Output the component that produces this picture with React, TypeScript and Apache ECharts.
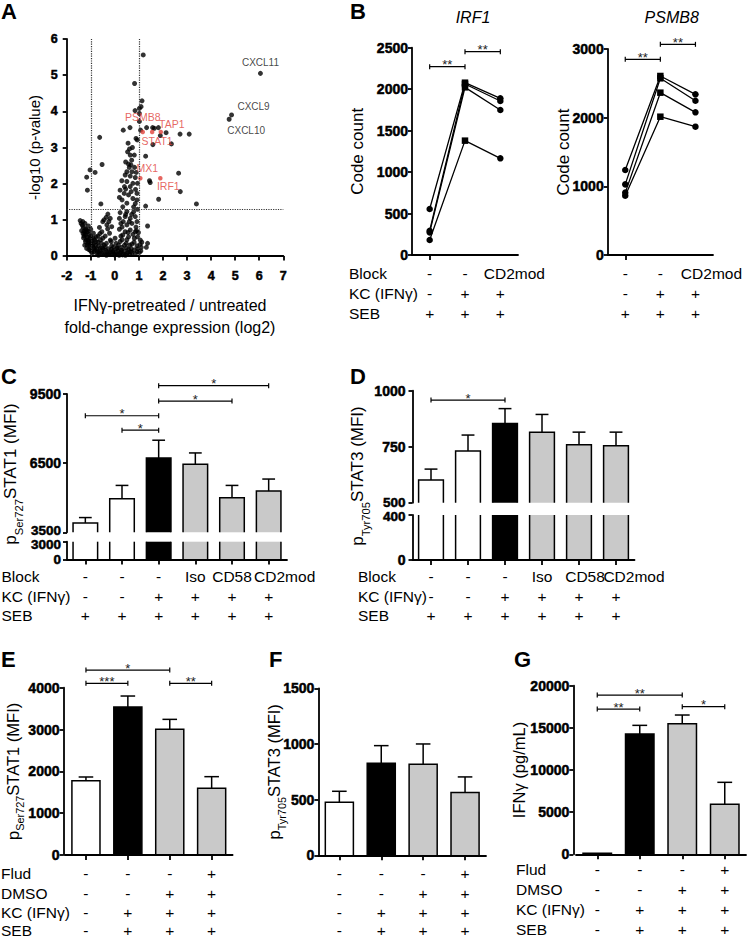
import React, { useEffect, useRef } from 'react';
import * as echarts from 'echarts';

const FONT = '"Liberation Sans", Arial, Helvetica, sans-serif';

// ---------------- Panel A: volcano plot ----------------
const volcanoPoints: [number, number][] = [
  [1.18, 5.56], [0.82, 4.77], [1.13, 4.29], [1.09, 4.13], [1.02, 4.08], [0.84, 4.02], [1.02, 3.94], [1.02, 3.72],
  [0.35, 3.48], [0.63, 3.55], [1.07, 3.48], [1.32, 3.55], [1.57, 3.55], [1.64, 3.53], [1.81, 3.55], [2.13, 3.41],
  [2.71, 3.37], [3.09, 3.37], [-0.63, 3.28], [0.88, 3.25], [0.93, 3.21], [1.89, 3.33], [0.55, 3.12], [0.73, 3.0],
  [1.58, 3.08], [2.35, 3.10], [0.61, 2.96], [0.64, 2.79], [1.28, 2.76], [0.81, 2.79], [-0.53, 2.53], [0.57, 2.54],
  [0.67, 2.52], [0.6, 2.45], [-1.03, 2.38], [-0.82, 2.31], [0.5, 2.33], [0.71, 2.33], [0.89, 2.31], [0.43, 2.24],
  [-1.17, 2.18], [0.64, 2.21], [0.85, 2.17], [2.65, 2.29], [1.44, 2.08], [1.47, 2.03], [0.29, 2.08], [0.5, 2.06],
  [0.75, 2.01], [0.94, 2.01], [0.40, 1.92], [0.22, 1.82], [0.64, 1.92], [0.86, 1.84], [-1.14, 1.82], [2.72, 1.78],
  [0.39, 1.73], [0.92, 1.73], [0.19, 1.62], [0.57, 1.69], [0.75, 1.59], [1.82, 1.57], [0.92, 1.55], [-0.58, 1.44],
  [3.39, 1.44], [0.5, 1.46], [0.33, 1.36], [0.78, 1.36], [1.28, 1.38], [0.45, 2.6], [0.7, 2.65], [0.53, 2.88],
  [0.82, 2.45], [0.68, 1.78], [0.3, 1.55], [0.85, 1.45], [0.45, 1.85],
  [0.22, 1.20], [0.5, 1.23], [0.94, 1.29], [-0.29, 1.16], [-0.36, 1.07], [-0.5, 0.95], [-0.19, 1.04], [-1.44, 0.98],
  [-1.33, 0.95], [-1.24, 0.90], [0.19, 1.04], [0.43, 1.09], [0.64, 1.04], [0.85, 1.09], [1.36, 0.83], [0.25, 0.90],
  [0.5, 0.86], [0.71, 0.90], [0.92, 0.95], [-0.33, 0.86], [-0.13, 0.81], [-0.64, 0.79], [-1.1, 0.83], [-1.31, 0.79],
  [-1.0, 0.74], [-1.38, 0.70], [-1.17, 0.67], [-0.89, 0.63], [-0.54, 0.67], [-0.22, 0.63], [0.19, 0.74], [0.43, 0.67],
  [0.64, 0.72], [0.85, 0.67], [0.33, 0.58], [0.57, 0.53], [0.81, 0.49], [0.94, 0.53], [1.06, 0.44], [1.36, 0.35],
  [1.31, 0.24], [-1.28, 0.55], [-1.03, 0.49], [-0.78, 0.53], [-0.5, 0.49], [-0.19, 0.44], [0.01, 0.49], [0.22, 0.40],
  [0.47, 0.35], [0.71, 0.33], [0.92, 0.28], [1.1, 0.24], [-1.19, 0.44], [-1.1, 0.35], [-0.89, 0.33], [-0.68, 0.28],
  [-0.4, 0.26], [-0.13, 0.28], [0.08, 0.21], [0.29, 0.24], [0.57, 0.18], [0.81, 0.17], [-1.0, 0.24], [-0.82, 0.18],
  [-0.61, 0.15], [-0.33, 0.12], [-0.06, 0.15], [0.22, 0.09], [0.5, 0.07], [0.71, 0.09], [-0.75, 0.07], [-0.5, 0.06],
  [-0.22, 0.07], [0.01, 0.05], [0.36, 0.05], [0.94, 0.12], [-0.96, 0.12], [-1.17, 0.21],
  [-1.25, 0.62], [-1.2, 0.58], [-1.15, 0.52], [-1.12, 0.45], [-1.08, 0.4], [-1.05, 0.3], [-0.98, 0.36], [-0.95, 0.42],
  [-0.92, 0.28], [-0.86, 0.22], [-0.8, 0.3], [-0.76, 0.2], [-0.72, 0.12], [-0.7, 0.38], [-0.65, 0.1], [-0.6, 0.22],
  [-0.55, 0.08], [-0.48, 0.18], [-0.45, 0.3], [-0.42, 0.04], [-0.38, 0.16], [-0.3, 0.06], [-0.26, 0.2], [-0.18, 0.1],
  [-0.12, 0.04], [-0.08, 0.12], [-0.02, 0.03], [0.04, 0.1], [0.1, 0.04], [0.14, 0.15], [0.18, 0.02], [0.26, 0.12],
  [0.32, 0.03], [0.4, 0.14], [0.44, 0.02], [0.55, 0.1], [0.62, 0.04], [0.68, 0.2], [-1.22, 0.75], [-1.35, 0.85],
  [-1.4, 0.9], [-1.28, 0.68], [-1.18, 0.72], [-1.05, 0.6], [-1.0, 0.55], [-0.9, 0.5], [-0.85, 0.45], [-0.6, 0.45],
  [-0.4, 0.55], [-0.3, 0.75], [-0.25, 0.95], [-0.45, 1.0], [0.3, 0.8], [0.35, 0.95], [0.6, 0.95], [0.7, 1.15],
  [0.45, 1.15], [0.55, 0.65], [0.75, 0.6], [0.88, 0.8], [0.95, 0.2], [1.02, 0.1], [1.05, 0.32], [0.98, 0.65],
  [0.4, 0.3], [0.3, 0.45], [0.15, 0.3], [0.05, 0.35], [-0.05, 0.25], [-0.15, 0.4], [-0.35, 0.35], [-0.55, 0.35],
  [-0.7, 0.55], [-0.62, 0.62], [0.25, 0.55], [0.62, 0.3], [0.5, 0.45], [0.8, 0.38], [0.9, 0.7], [0.78, 1.22],
  [-1.3, 0.5], [-1.22, 0.4], [-1.15, 0.3], [-1.08, 0.18], [-0.95, 0.08], [-0.88, 0.12], [-1.02, 0.15], [-1.25, 0.3],
  [-1.32, 0.62], [-1.1, 0.68], [-0.78, 0.4], [-0.68, 0.02], [-0.52, 0.22], [-0.35, 0.02], [-0.15, 0.18], [0.12, 0.22],
  [0.28, 0.16], [0.48, 0.22], [0.66, 0.12], [0.85, 0.06], [1.08, 0.14], [1.12, 0.38],
];
const blackGenes = ['CXCL11', 'CXCL9', 'CXCL10'];
const blackGeneFC = [6.05, 4.85, 4.75];
const blackGeneP = [5.05, 3.9, 3.78];
const redGenes = ['PSMB8', 'TAP1', 'STAT1', 'MX1', 'IRF1'];
const redGeneFC = [1.16, 1.91, 1.55, 1.06, 1.89];
const redGeneP = [3.43, 3.43, 3.43, 2.15, 2.15];
const fcThresholds = [-1, 1];
const pThreshold = 1.3;

// ---------------- Panel B: NanoString code counts ----------------
const bColumns = ['SEB', 'SEB+KC', 'SEB+KC+CD2mod'];
const irf1Counts = [[555, 2078, 1889], [293, 2062, 1857], [273, 2022, 1749], [181, 1379, 1166]];
const psmb8Counts = [[1238, 2607, 2340], [1029, 2573, 2247], [908, 2364, 2078], [864, 2014, 1869]];
const bBlockRow = ['-', '-', 'CD2mod'];
const bKcRow = ['-', '+', '+'];
const bSebRow = ['+', '+', '+'];
const irf1Sig = [[0, 1, 2271], [1, 2, 2452]];
const irf1Stars = ['**', '**'];
const psmb8Sig = [[0, 1, 2849], [1, 2, 3068]];
const psmb8Stars = ['**', '**'];
const bRowNames = ['Block', 'KC (IFNγ)', 'SEB'];

// ---------------- Panels C / D ----------------
const cdColumns = ['c1', 'c2', 'c3', 'c4', 'c5', 'c6'];
const cdBlockRow = ['-', '-', '-', 'Iso', 'CD58', 'CD2mod'];
const cdKcRow = ['-', '-', '+', '+', '+', '+'];
const cdSebRow = ['+', '+', '+', '+', '+', '+'];
const stat1SerMean = [3907, 4953, 6725, 6449, 4996, 5287];
const stat1SerSem = [232, 581, 770, 494, 538, 523];
const stat3TyrMean = [601, 731, 854, 815, 759, 754];
const stat3TyrSem = [49, 71, 66, 79, 56, 61];
const cSig = [[0, 2, 8556], [1, 2, 7931], [2, 5, 9863], [2, 4, 9195]];
const cStars = ['*', '*', '*', '*'];
const dSig = [[0, 2, 958]];
const dStars = ['*'];
const cUpperRange = [3500, 9500, 3000];
const cLowerRange = [0, 3000, 3000];
const dUpperRange = [500, 1000, 250];
const dLowerRange = [0, 400, 400];

// ---------------- Panels E / F / G ----------------
const efgColumns = ['e1', 'e2', 'e3', 'e4'];
const efgFludRow = ['-', '-', '-', '+'];
const efgDmsoRow = ['-', '-', '+', '+'];
const efgKcRow = ['-', '+', '+', '+'];
const efgSebRow = ['-', '+', '+', '+'];
const efgRowNames = ['Flud', 'DMSO', 'KC (IFNγ)', 'SEB'];
const eMean = [1777, 3538, 3004, 1594];
const eSem = [88, 263, 239, 279];
const fMean = [476, 826, 817, 563];
const fSem = [99, 159, 183, 141];
const gMean = [120, 14269, 15494, 5929];
const gSem = [0, 1027, 1028, 2609];
const eSig = [[0, 2, 4422], [0, 1, 4104], [2, 3, 4104]];
const eStars = ['*', '***', '**'];
const gSig = [[0, 2, 18893], [0, 1, 17233], [2, 3, 17510]];
const gStars = ['**', '**', '*'];

// ---------------- option builder ----------------
function buildOption() {
  const grid: any[] = [];
  const xAxis: any[] = [];
  const yAxis: any[] = [];
  const series: any[] = [];
  const elements: any[] = [];
  const AX = { color: '#000', width: 1.8 };
  const W = '#ffffff', B = '#000000', G = '#c9c9c9';
  const cdFills = [W, W, B, G, G, G];
  const efgFills = [W, B, G, G];
  const BAR_RATIO = 0.67;
  const CAP_RATIO = 0.52;
  const boldTok = (size: number, extra: any = {}) => ({
    fontWeight: 'bold', fontSize: size, fontFamily: FONT, color: '#000',
    textBorderColor: '#000', textBorderWidth: 0.5, ...extra,
  });

  const addGrid = (left: number, top: number, width: number, height: number) => {
    grid.push({ left, top, width, height, containLabel: false, outerBoundsMode: 'none' });
    return grid.length - 1;
  };
  const addY = (gridIndex: number, range: number[], o: any = {}) => {
    const fs = o.fontSize ?? 14;
    const bare = !!o.bare;
    yAxis.push({
      type: 'value', gridIndex, position: 'left', min: range[0], max: range[1], interval: range[2],
      offset: o.offset ?? 0,
      name: o.name, nameLocation: 'middle', nameGap: o.nameGap ?? 30, nameMoveOverlap: false,
      nameTextStyle: o.nameTextStyle,
      axisLine: { show: !bare, onZero: false, lineStyle: AX },
      axisTick: { show: !bare, length: 4, lineStyle: AX },
      axisLabel: {
        show: o.labels ?? true, color: '#000', fontFamily: FONT, fontWeight: 'bold', fontSize: fs,
        margin: o.margin ?? 4, showMinLabel: o.showMin ?? true, showMaxLabel: o.showMax ?? true,
        hideOverlap: false,
        formatter: o.formatter ?? ((v: number) => `{t|${v}}`),
        rich: o.rich ?? { t: boldTok(fs) },
      },
      splitLine: { show: false },
      z: 3,
    });
    return yAxis.length - 1;
  };
  const addCatX = (gridIndex: number, cats: string[], show = true) => {
    xAxis.push({
      type: 'category', gridIndex, position: 'bottom', data: cats, boundaryGap: true, show, z: 3,
      axisLine: { show: true, onZero: false, lineStyle: AX },
      axisTick: { show: true, alignWithLabel: true, length: 5, lineStyle: AX },
      axisLabel: { show: false }, splitLine: { show: false },
    });
    return xAxis.length - 1;
  };
  const rowLabel = { verticalAlign: 'middle', color: '#000', fontFamily: FONT, fontSize: 15.5, lineHeight: 12 };
  const addRow = (gridIndex: number, labels: string[], offset: number, shift: number[] = []) => {
    xAxis.push({
      type: 'category', gridIndex, position: 'bottom', offset, boundaryGap: true,
      data: labels.map((v, i) => (shift[i] ? { value: v, textStyle: { ...rowLabel, padding: [0, 0, 0, shift[i] * 2] } } : v)),
      axisLine: { show: false, onZero: false }, axisTick: { show: false }, splitLine: { show: false },
      axisLabel: { show: true, interval: 0, margin: 0, ...rowLabel },
    });
  };
  const text = (x: number, y: number, t: string, style: any = {}, extra: any = {}) => {
    elements.push({
      type: 'text', x, y, silent: true, z: 10, ...extra,
      style: { text: t, fill: '#000', fontFamily: FONT, fontSize: 15.5, align: 'left', verticalAlign: 'middle', ...style },
    });
  };
  const subRich = (size: number) => ({
    p: { fontSize: size, fontFamily: FONT, color: '#000', fill: '#000', lineHeight: size + 5, verticalAlign: 'top' },
    s: { fontSize: size * 0.66, fontFamily: FONT, color: '#000', fill: '#000', lineHeight: size * 0.66, verticalAlign: 'bottom' },
  });

  const barSeries = (xi: number, yi: number, means: number[], sems: number[], fills: string[], yMin: number, yMax: number) => {
    series.push({
      type: 'custom', xAxisIndex: xi, yAxisIndex: yi, clip: false, silent: true, z: 2,
      data: means.map((m, i) => [i, m, sems[i]]),
      encode: { x: 0, y: 1 },
      renderItem: (params: any, api: any) => {
        const i = params.dataIndex;
        const idx = api.value(0);
        const mean = api.value(1);
        const sem = api.value(2);
        const band = api.size([1, 0])[0];
        const w = band * BAR_RATIO;
        const base = api.coord([idx, yMin]);
        const cx = base[0];
        const yb = base[1];
        const over = mean > yMax;
        const yt = api.coord([idx, over ? yMax : mean])[1];
        const x0 = cx - w / 2;
        const x1 = cx + w / 2;
        const ls = { stroke: '#000', lineWidth: 1.5, fill: 'none' };
        const children: any[] = [
          { type: 'rect', shape: { x: x0, y: yt, width: w, height: yb - yt }, style: { fill: fills[i], stroke: 'none' } },
        ];
        if (over) {
          children.push({ type: 'line', shape: { x1: x0, y1: yt, x2: x0, y2: yb }, style: ls });
          children.push({ type: 'line', shape: { x1: x1, y1: yt, x2: x1, y2: yb }, style: ls });
        } else {
          children.push({ type: 'polyline', shape: { points: [[x0, yb], [x0, yt], [x1, yt], [x1, yb]] }, style: ls });
          if (sem > 0) {
            const ye = api.coord([idx, mean + sem])[1];
            const cw = w * CAP_RATIO;
            children.push({ type: 'line', shape: { x1: cx, y1: yt, x2: cx, y2: ye }, style: ls });
            children.push({ type: 'line', shape: { x1: cx - cw / 2, y1: ye, x2: cx + cw / 2, y2: ye }, style: ls });
          }
        }
        return { type: 'group', children };
      },
    });
  };
  const bracketSeries = (xi: number, yi: number, sig: number[][], stars: string[]) => {
    series.push({
      type: 'custom', xAxisIndex: xi, yAxisIndex: yi, clip: false, silent: true, z: 4,
      data: sig, encode: { x: [0, 1], y: 2 },
      renderItem: (params: any, api: any) => {
        const a = api.coord([api.value(0), api.value(2)]);
        const b = api.coord([api.value(1), api.value(2)]);
        const ls = { stroke: '#000', lineWidth: 1.2 };
        const h = 2.5;
        return {
          type: 'group',
          children: [
            { type: 'line', shape: { x1: a[0], y1: a[1], x2: b[0], y2: b[1] }, style: ls },
            { type: 'line', shape: { x1: a[0], y1: a[1] - h, x2: a[0], y2: a[1] + h }, style: ls },
            { type: 'line', shape: { x1: b[0], y1: b[1] - h, x2: b[0], y2: b[1] + h }, style: ls },
            {
              type: 'text', x: (a[0] + b[0]) / 2, y: a[1] - 2,
              style: { text: stars[params.dataIndex], fontSize: 13, fontFamily: FONT, fill: '#222', align: 'center', verticalAlign: 'middle' },
            },
          ],
        };
      },
    });
  };
  const donorLines = (xi: number, yi: number, donors: number[][]) => {
    donors.forEach((d) => {
      series.push({
        type: 'line', xAxisIndex: xi, yAxisIndex: yi, silent: true, z: 3,
        data: d.map((v, i) => ({ value: [i, v], symbol: i === 1 ? 'rect' : 'circle' })),
        symbolSize: 6.5, showSymbol: true,
        lineStyle: { color: '#000', width: 1.3 }, itemStyle: { color: '#000' },
      });
    });
  };

  // ---- Panel A
  const gA = addGrid(66.7, 39, 216.6, 217);
  xAxis.push({
    type: 'value', gridIndex: gA, position: 'bottom', min: -2, max: 7, interval: 1, z: 3,
    name: 'IFNγ-pretreated / untreated\nfold-change expression (log2)', nameLocation: 'middle', nameGap: 38,
    nameMoveOverlap: false,
    nameTextStyle: { fontFamily: FONT, fontSize: 16, color: '#000', lineHeight: 22, padding: [0, 10, 0, 0] },
    axisLine: { show: true, onZero: false, lineStyle: AX },
    axisTick: { show: true, length: 4.5, lineStyle: AX },
    axisLabel: {
      color: '#000', fontFamily: FONT, fontWeight: 'bold', fontSize: 12.5, margin: 13, showMinLabel: true, showMaxLabel: true,
      formatter: (v: number) => `{t|${v}}`, rich: { t: boldTok(12.5) },
    },
    splitLine: { show: false },
  });
  const xA = xAxis.length - 1;
  const yA = addY(gA, [0, 6, 1], {
    name: '-log10 (p-value)', nameGap: 24.5, fontSize: 12.5, margin: 9,
    nameTextStyle: { fontFamily: FONT, fontSize: 15, color: '#000' },
  });
  series.push({
    type: 'scatter', xAxisIndex: xA, yAxisIndex: yA, data: volcanoPoints, symbolSize: 5, silent: true,
    itemStyle: { color: '#000' },
    markLine: {
      silent: true, symbol: ['none', 'none'], label: { show: false },
      lineStyle: { type: 'dotted', color: '#333', width: 1.2 },
      data: [...fcThresholds.map((v) => ({ xAxis: v })), { yAxis: pThreshold }],
    },
  });
  const blackOffsets = [[0, -11], [22, -8], [17, 11]];
  series.push({
    type: 'scatter', xAxisIndex: xA, yAxisIndex: yA, silent: true, symbolSize: 5,
    itemStyle: { color: '#000' },
    data: blackGenes.map((n, i) => ({ name: n, value: [blackGeneFC[i], blackGeneP[i]], label: { offset: blackOffsets[i] } })),
    label: { show: true, position: 'inside', formatter: '{b}', fontSize: 10, fontFamily: FONT, color: '#111' },
  });
  const redOffsets = [[0, -15], [11, -8], [5, 9], [7, -10], [8, 8]];
  series.push({
    type: 'scatter', xAxisIndex: xA, yAxisIndex: yA, silent: true, symbolSize: 4.5,
    itemStyle: { color: '#e0403a' },
    data: redGenes.map((n, i) => ({ name: n, value: [redGeneFC[i], redGeneP[i]], label: { offset: redOffsets[i] } })),
    label: { show: true, position: 'inside', formatter: '{b}', fontSize: 10.5, fontFamily: FONT, color: '#e0403a' },
  });

  // ---- Panel B
  const codeName = { fontFamily: FONT, fontSize: 17, color: '#000' };
  const gB1 = addGrid(412, 47.7, 106, 207.3);
  const xB1 = addCatX(gB1, bColumns);
  const yB1 = addY(gB1, [0, 2500, 500], { name: 'Code count', nameGap: 46.5, nameTextStyle: codeName });
  addRow(gB1, bBlockRow, 18.5, [0, 0, 14]);
  addRow(gB1, bKcRow, 38.5);
  addRow(gB1, bSebRow, 58.5);
  donorLines(xB1, yB1, irf1Counts);
  bracketSeries(xB1, yB1, irf1Sig, irf1Stars);

  const gB2 = addGrid(607.7, 49, 105.3, 206);
  const xB2 = addCatX(gB2, bColumns);
  const yB2 = addY(gB2, [0, 3000, 1000], { name: 'Code count', nameGap: 36, nameTextStyle: codeName });
  addRow(gB2, bBlockRow, 18.5, [0, 0, 16]);
  addRow(gB2, bKcRow, 38.5);
  addRow(gB2, bSebRow, 58.5);
  donorLines(xB2, yB2, psmb8Counts);
  bracketSeries(xB2, yB2, psmb8Sig, psmb8Stars);
  bRowNames.forEach((n, i) => text(349, 273.5 + i * 20, n));

  // ---- Panel C (broken axis)
  const cLeft = 67, cLowTop = 541.7, cLowH = 17.8;
  const gCu = addGrid(cLeft, 394, 220, 138.3);
  const xCu = addCatX(gCu, cdColumns, false);
  const yCu = addY(gCu, cUpperRange, {
    margin: 6, fontSize: 14,
    formatter: (v: number) => (v === cUpperRange[0] ? `{hi|${v}}` : `{t|${v}}`),
    rich: { t: boldTok(14), hi: boldTok(13.5, { lineHeight: 12, padding: [0, 0, 3, 0] }) },
  });
  const gCl = addGrid(cLeft, cLowTop, 220, cLowH);
  const xCl = addCatX(gCl, cdColumns);
  // lower segment: axis line + ticks
  const yCl = addY(gCl, cLowerRange, { margin: 6, labels: false });
  // twin axis carrying the label at the top of the segment
  addY(gCl, cLowerRange, {
    bare: true, margin: 6, fontSize: 13.5, showMin: false,
    formatter: (v: number) => (v === cLowerRange[1] ? `{lo|${v}}` : ''),
    rich: { lo: boldTok(13.5, { lineHeight: 12, padding: [5, 0, 0, 0] }) },
  });
  // bottom-of-segment tick label (the axis' own min label is suppressed by the library on this very short segment)
  text(cLeft - 6, cLowTop + cLowH, String(cLowerRange[0]), {
    align: 'right', fontSize: 13.5, fontWeight: 'bold', stroke: '#000', lineWidth: 0.5,
  });
  barSeries(xCu, yCu, stat1SerMean, stat1SerSem, cdFills, cUpperRange[0], cUpperRange[1]);
  barSeries(xCl, yCl, stat1SerMean, stat1SerSem, cdFills, cLowerRange[0], cLowerRange[1]);
  bracketSeries(xCu, yCu, cSig, cStars);
  addRow(gCl, cdBlockRow, 17.2, [0, 0, 0, 0, 0, 16]);
  addRow(gCl, cdKcRow, 36.8);
  addRow(gCl, cdSebRow, 56);
  bRowNames.forEach((n, i) => text(1.5, 576.7 + i * 19.4, n));
  text(13, 474, '{p|p}{s|Ser727}{p|STAT1 (MFI)}', { align: 'center', rich: subRich(17) }, { rotation: Math.PI / 2 });

  // ---- Panel D (broken axis)
  const gDu = addGrid(412.5, 390.7, 222, 112);
  const xDu = addCatX(gDu, cdColumns, false);
  const yDu = addY(gDu, dUpperRange, {
    margin: 7,
    formatter: (v: number) => (v === dUpperRange[0] ? `{hi|${v}}` : `{t|${v}}`),
    rich: { t: boldTok(14), hi: boldTok(13.5, { lineHeight: 12 }) },
  });
  const gDl = addGrid(412.5, 515, 222, 45);
  const xDl = addCatX(gDl, cdColumns);
  const yDl = addY(gDl, dLowerRange, {
    margin: 7,
    formatter: (v: number) => (v === dLowerRange[1] ? `{lo|${v}}` : `{t|${v}}`),
    rich: { t: boldTok(14), lo: boldTok(13.5, { lineHeight: 12, padding: [3, 0, 0, 0] }) },
  });
  barSeries(xDu, yDu, stat3TyrMean, stat3TyrSem, cdFills, dUpperRange[0], dUpperRange[1]);
  barSeries(xDl, yDl, stat3TyrMean, stat3TyrSem, cdFills, dLowerRange[0], dLowerRange[1]);
  bracketSeries(xDu, yDu, dSig, dStars);
  addRow(gDl, cdBlockRow, 16.7, [0, 0, 0, 0, 6, 18]);
  addRow(gDl, cdKcRow, 36.3);
  addRow(gDl, cdSebRow, 55.5);
  bRowNames.forEach((n, i) => text(358, 576.7 + i * 19.4, n));
  text(360, 476, '{p|p}{s|Tyr705}{p|STAT3 (MFI)}', { align: 'center', rich: subRich(17) }, { rotation: Math.PI / 2 });

  // ---- Panel E
  const gE = addGrid(65, 687.7, 167.6, 167.3);
  const xE = addCatX(gE, efgColumns);
  const yE = addY(gE, [0, 4000, 1000], {
    offset: 1.5, name: '{p|p}{s|Ser727}{p|STAT1 (MFI)}', nameGap: 38,
    nameTextStyle: { rich: subRich(16.5) },
  });
  barSeries(xE, yE, eMean, eSem, efgFills, 0, 4000);
  bracketSeries(xE, yE, eSig, eStars);
  [efgFludRow, efgDmsoRow, efgKcRow, efgSebRow].forEach((r, i) => addRow(gE, r, [18.3, 38.3, 57.7, 75][i]));
  efgRowNames.forEach((n, i) => text(1, [873.3, 893.3, 912.7, 930][i], n, { lineHeight: 12 }));

  // ---- Panel F
  const gF = addGrid(318.4, 688.3, 167.6, 167);
  const xF = addCatX(gF, efgColumns);
  const yF = addY(gF, [0, 1500, 500], {
    name: '{p|p}{s|Tyr705}{p|STAT3 (MFI)}', nameGap: 31,
    nameTextStyle: { rich: subRich(16.5) },
  });
  barSeries(xF, yF, fMean, fSem, efgFills, 0, 1500);
  [efgFludRow, efgDmsoRow, efgKcRow, efgSebRow].forEach((r, i) => addRow(gF, r, [18, 38, 57.4, 74.7][i]));

  // ---- Panel G
  const gG = addGrid(576, 685.7, 170, 168.6);
  const xG = addCatX(gG, efgColumns);
  const yG = addY(gG, [0, 20000, 5000], {
    offset: 2.7, name: 'IFNγ (pg/mL)', nameGap: 45.5,
    nameTextStyle: { fontFamily: FONT, fontSize: 16.5, color: '#000' },
  });
  barSeries(xG, yG, gMean, gSem, efgFills, 0, 20000);
  bracketSeries(xG, yG, gSig, gStars);
  [efgFludRow, efgDmsoRow, efgKcRow, efgSebRow].forEach((r, i) => addRow(gG, r, [15, 35, 55, 75][i]));
  efgRowNames.forEach((n, i) => text(516, [869.3, 889.3, 909.3, 929.3][i], n, { lineHeight: 12 }));

  // ---- panel letters and titles
  const letter = { fontSize: 22, fontWeight: 'bold' };
  text(1, 11, 'A', letter);
  text(350, 11, 'B', letter);
  text(1, 376, 'C', letter);
  text(350, 376, 'D', letter);
  text(1, 659.5, 'E', letter);
  text(269, 659.5, 'F', letter);
  text(514, 659.5, 'G', letter);
  text(473, 17, 'IRF1', { fontSize: 16, fontStyle: 'italic', align: 'center' });
  text(671.7, 17, 'PSMB8', { fontSize: 16, fontStyle: 'italic', align: 'center' });

  return {
    animation: false,
    backgroundColor: '#ffffff',
    textStyle: { fontFamily: FONT },
    grid, xAxis, yAxis, series,
    graphic: { elements },
  };
}

export default function App() {
  const ref = useRef<HTMLDivElement>(null);
  useEffect(() => {
    if (!ref.current) return;
    const chart = echarts.init(ref.current, null, { renderer: 'svg' });
    chart.setOption(buildOption() as any);
    return () => chart.dispose();
  }, []);
  return (
    <div
      ref={ref}
      style={{ position: 'absolute', left: 0, top: 0, width: 747, height: 938, background: '#fff' }}
    />
  );
}
